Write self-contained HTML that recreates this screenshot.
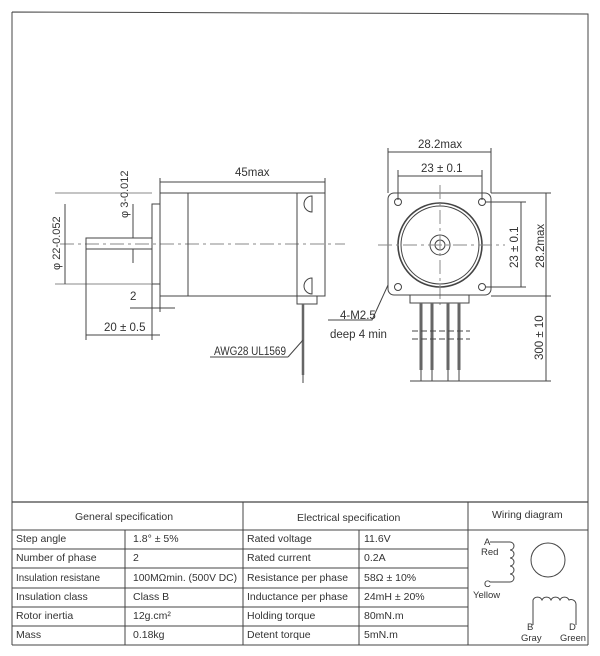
<!DOCTYPE html>
<html><head><meta charset="utf-8"><style>
html,body{margin:0;padding:0;background:#fff;}
svg{display:block;}
text{font-family:"Liberation Sans",sans-serif;fill:#333;}
</style></head><body>
<svg width="600" height="656" viewBox="0 0 600 656" xmlns="http://www.w3.org/2000/svg">
<g stroke="#444" fill="none" stroke-width="1">
<path d="M12 12 L588 14 L588 645 M12 12 L12 645"/>
<line x1="60" y1="244" x2="345" y2="244" stroke-dasharray="14,4,3,4" stroke="#888"/>
<rect x="86" y="238" width="66" height="11"/>
<rect x="152" y="204" width="8" height="80"/>
<rect x="160" y="193" width="165" height="103"/>
<line x1="188" y1="193" x2="188" y2="296"/>
<line x1="297" y1="193" x2="297" y2="296"/>
<rect x="297" y="296" width="20" height="8"/>
<path d="M312 196 a8 8 0 0 0 0 16 z M312 278 a8 8 0 0 0 0 16 z"/>
<line x1="303" y1="304" x2="303" y2="375" stroke-width="2.5" stroke="#666"/>
<line x1="303" y1="375" x2="303" y2="383"/>
<line x1="160" y1="178" x2="160" y2="193"/><line x1="325" y1="178" x2="325" y2="193"/>
<line x1="160" y1="182" x2="325" y2="182"/>
<line x1="55" y1="193" x2="152" y2="193" stroke="#888"/><line x1="55" y1="284" x2="152" y2="284" stroke="#888"/>
<line x1="65" y1="204" x2="65" y2="284"/>
<line x1="133" y1="204" x2="133" y2="238"/><line x1="133" y1="249" x2="133" y2="263"/>
<line x1="86" y1="249" x2="86" y2="340"/><line x1="152" y1="284" x2="152" y2="340"/><line x1="160" y1="296" x2="160" y2="312"/>
<line x1="86" y1="335" x2="160" y2="335"/>
<line x1="130" y1="308" x2="175" y2="308"/>
<line x1="210" y1="357" x2="288" y2="357"/><line x1="288" y1="357" x2="303" y2="340"/>
<rect x="388" y="193" width="103" height="102" rx="6"/>
<circle cx="440" cy="245" r="42" stroke-width="1.6"/>
<circle cx="440" cy="245" r="39"/>
<circle cx="440" cy="245" r="10"/><circle cx="440" cy="245" r="5"/>
<circle cx="398" cy="202" r="3.5"/><circle cx="482" cy="202" r="3.5"/>
<circle cx="398" cy="287" r="3.5"/><circle cx="482" cy="287" r="3.5"/>
<line x1="378" y1="245" x2="505" y2="245" stroke-dasharray="14,4,3,4" stroke="#888"/>
<line x1="440" y1="185" x2="440" y2="305" stroke-dasharray="14,4,3,4" stroke="#888"/>
<rect x="410" y="295" width="59" height="8"/>
<g stroke-width="3" stroke="#666"><line x1="421" y1="303" x2="421" y2="370"/><line x1="432" y1="303" x2="432" y2="370"/><line x1="448" y1="303" x2="448" y2="370"/><line x1="459" y1="303" x2="459" y2="370"/></g>
<path d="M421 370 V381 M432 370 V381 M448 370 V381 M459 370 V381"/>
<line x1="410" y1="381" x2="551" y2="381"/>
<line x1="412" y1="331" x2="470" y2="331" stroke-dasharray="6,3"/><line x1="412" y1="339" x2="470" y2="339" stroke-dasharray="6,3"/>
<line x1="388" y1="148" x2="388" y2="193"/><line x1="491" y1="148" x2="491" y2="193"/>
<line x1="388" y1="152" x2="491" y2="152"/>
<line x1="398" y1="170" x2="398" y2="200"/><line x1="482" y1="170" x2="482" y2="200"/>
<line x1="398" y1="176" x2="482" y2="176"/>
<line x1="491" y1="193" x2="551" y2="193"/><line x1="485" y1="202" x2="526" y2="202"/><line x1="485" y1="287" x2="526" y2="287"/><line x1="491" y1="296" x2="551" y2="296"/>
<line x1="521" y1="202" x2="521" y2="287"/><line x1="546" y1="193" x2="546" y2="296"/><line x1="546" y1="296" x2="546" y2="381"/>
<path d="M388 285 L372 320 L328 320"/>
<line x1="12" y1="502" x2="588" y2="502" stroke-width="1.3"/>
<path d="M12 530 H468 M12 549 H468 M12 568 H468 M12 588 H468 M12 607 H468 M12 626 H468 M12 645 H588 M468 530 H588"/>
<path d="M125 530 V645 M243 502 V645 M359 530 V645 M468 502 V645"/>
<circle cx="548" cy="560" r="17"/>
<path d="M490 542 H510 a4 4 0 0 1 0 8 a4 4 0 0 1 0 8 a4 4 0 0 1 0 8 a4 4 0 0 1 0 8 a4 4 0 0 1 0 8 H490"/>
<path d="M533 625 V600 a5 5 0 0 1 9 0 a5 5 0 0 1 9 0 a5 5 0 0 1 9 0 a5 5 0 0 1 9 0 a5 5 0 0 1 7 4 V625"/>
</g>
<g font-size="10.5">
<text x="235" y="176" font-size="11.5">45max</text>
<text x="130" y="300" font-size="11.5">2</text>
<text x="104" y="331" font-size="11.5">20 ± 0.5</text>
<text x="214" y="355" font-size="11.5" textLength="72" lengthAdjust="spacingAndGlyphs">AWG28  UL1569</text>
<text x="340" y="319" font-size="11.5">4-M2.5</text>
<text x="330" y="338" font-size="11.5">deep 4 min</text>
<text x="418" y="148" font-size="11.5">28.2max</text>
<text x="421" y="172" font-size="11.5">23 ± 0.1</text>
<text transform="translate(518,268) rotate(-90)" font-size="11.5">23 ± 0.1</text>
<text transform="translate(544,268) rotate(-90)" font-size="11.5">28.2max</text>
<text transform="translate(543,360) rotate(-90)" font-size="11.5">300 ± 10</text>
<text transform="translate(60,270) rotate(-90)" font-size="11">φ 22-0.052</text>
<text transform="translate(128,218) rotate(-90)" font-size="11">φ 3-0.012</text>
<text x="75" y="520">General  specification</text>
<text x="297" y="521">Electrical  specification</text>
<text x="492" y="518">Wiring diagram</text>
<text x="16" y="542">Step angle</text><text x="133" y="542">1.8°  ± 5%</text><text x="247" y="542">Rated voltage</text><text x="364" y="542">11.6V</text>
<text x="16" y="561">Number of phase</text><text x="133" y="561">2</text><text x="247" y="561">Rated current</text><text x="364" y="561">0.2A</text>
<text x="16" y="581" textLength="84" lengthAdjust="spacingAndGlyphs">Insulation resistane</text><text x="133" y="581" textLength="104" lengthAdjust="spacingAndGlyphs">100MΩmin. (500V DC)</text><text x="247" y="581" textLength="101" lengthAdjust="spacingAndGlyphs">Resistance per phase</text><text x="364" y="581">58Ω ± 10%</text>
<text x="16" y="600">Insulation class</text><text x="133" y="600">Class B</text><text x="247" y="600" textLength="101" lengthAdjust="spacingAndGlyphs">Inductance per phase</text><text x="364" y="600">24mH ± 20%</text>
<text x="16" y="619">Rotor inertia</text><text x="133" y="619">12g.cm²</text><text x="247" y="619">Holding torque</text><text x="364" y="619">80mN.m</text>
<text x="16" y="638">Mass</text><text x="133" y="638">0.18kg</text><text x="247" y="638">Detent torque</text><text x="364" y="638">5mN.m</text>
<text x="484" y="545" font-size="9.5">A</text><text x="481" y="555" font-size="9.5">Red</text>
<text x="484" y="587" font-size="9.5">C</text><text x="473" y="598" font-size="9.5">Yellow</text>
<text x="527" y="630" font-size="9.5">B</text><text x="521" y="641" font-size="9.5">Gray</text>
<text x="569" y="630" font-size="9.5">D</text><text x="560" y="641" font-size="9.5" textLength="26" lengthAdjust="spacingAndGlyphs">Green</text>
</g>
</svg>
</body></html>
